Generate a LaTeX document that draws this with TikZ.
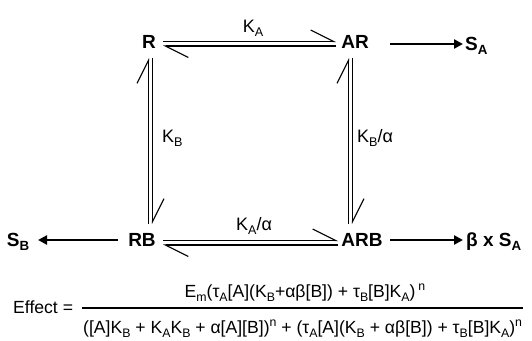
\documentclass[tikz,border=0pt]{standalone}
\usepackage{fontspec}
\usepackage{graphicx}
\setmainfont{Liberation Sans}
\usetikzlibrary{arrows.meta}
\newcommand{\sbs}[1]{\raisebox{-0.24em}{\scalebox{0.7}{#1}}}
\newcommand{\sps}[1]{\raisebox{0.36em}{\scalebox{0.7}{#1}}}
\begin{document}
\begin{tikzpicture}[x=1pt,y=-1pt,
  lbl/.style={font=\fontsize{19}{21}\selectfont\bfseries, inner sep=0pt, anchor=base},
  kl/.style={font=\fontsize{18}{20}\selectfont, inner sep=0pt, anchor=base},
  fm/.style={font=\fontsize{17.6}{20}\selectfont, inner sep=0pt},
  eq/.style={line width=1.1pt, -{Straight Barb[left,length=23pt,width=23pt,line width=1.1pt]}},
  big/.style={line width=2.6pt, -{Triangle[length=9pt,width=9pt]}},
  ]
\useasboundingbox (0,0) rectangle (532,340);
% species
\node[lbl] (R) at (149,48) {R};
\node[lbl] (AR) at (355,48) {AR};
\node[lbl, anchor=base west] (SA) at (465,50) {S\sbs{A}};
\node[lbl] (RB) at (142,246) {RB};
\node[lbl] (ARB) at (362,246) {ARB};
\node[lbl] (SB) at (18,246) {S\sbs{B}};
\node[lbl, anchor=base west] (BSA) at (466,246) {β x S\sbs{A}};
% rate labels
\node[kl] (KA) at (253,32) {K\sbs{A}};
\node[kl, anchor=base west] (KB) at (162,142) {K\sbs{B}};
\node[kl, anchor=base west] (KBa) at (357,142) {K\sbs{B}/α};
\node[kl] (KAa) at (254,230) {K\sbs{A}/α};
% equilibria
\draw[eq] ([shift={(14,-6.5)}]R.base) -- ([shift={(-19,-6.5)}]AR.base);
\draw[eq] ([shift={(-19,-2)}]AR.base) -- ([shift={(14,-2)}]R.base);
\draw[eq] ([shift={(6.5,-22)}]RB.base) -- ([shift={(-0.5,10)}]R.base);
\draw[eq] ([shift={(3.5,10)}]R.base) -- ([shift={(10.5,-22)}]RB.base);
\draw[eq] ([shift={(21,-5.5)}]RB.base) -- ([shift={(-24,-5.5)}]ARB.base);
\draw[eq] ([shift={(-24,-1)}]ARB.base) -- ([shift={(21,-1)}]RB.base);
\draw[eq] ([shift={(-13.5,-22)}]ARB.base) -- ([shift={(-6.5,10)}]AR.base);
\draw[eq] ([shift={(-2.5,10)}]AR.base) -- ([shift={(-9.5,-22)}]ARB.base);
% signalling arrows
\draw[big] ([shift={(35,-4)}]AR.base) -- ([shift={(-2,-6)}]SA.base west);
\draw[big] ([shift={(-24,-6)}]RB.base) -- ([shift={(20,-6)}]SB.base);
\draw[big] ([shift={(28,-6)}]ARB.base) -- ([shift={(-3,-6)}]BSA.base west);
% formula
\node[fm, anchor=base west] (eff) at (13,313) {Effect =};
\node[fm, anchor=base] (num) at (305,297) {E\sbs{m}(τ\sbs{A}[A](K\sbs{B}+αβ[B]) + τ\sbs{B}[B]K\sbs{A})\,\sps{n}};
\node[fm, anchor=base west] (den) at (83,333) {([A]K\sbs{B} + K\sbs{A}K\sbs{B} + α[A][B])\sps{n} + (τ\sbs{A}[A](K\sbs{B} + αβ[B]) + τ\sbs{B}[B]K\sbs{A})\sps{n}};
\draw[line width=1.1pt] ([xshift=-1pt]den.west |- 0,308) -- ([xshift=1pt]den.east |- 0,308);
\end{tikzpicture}
\end{document}
